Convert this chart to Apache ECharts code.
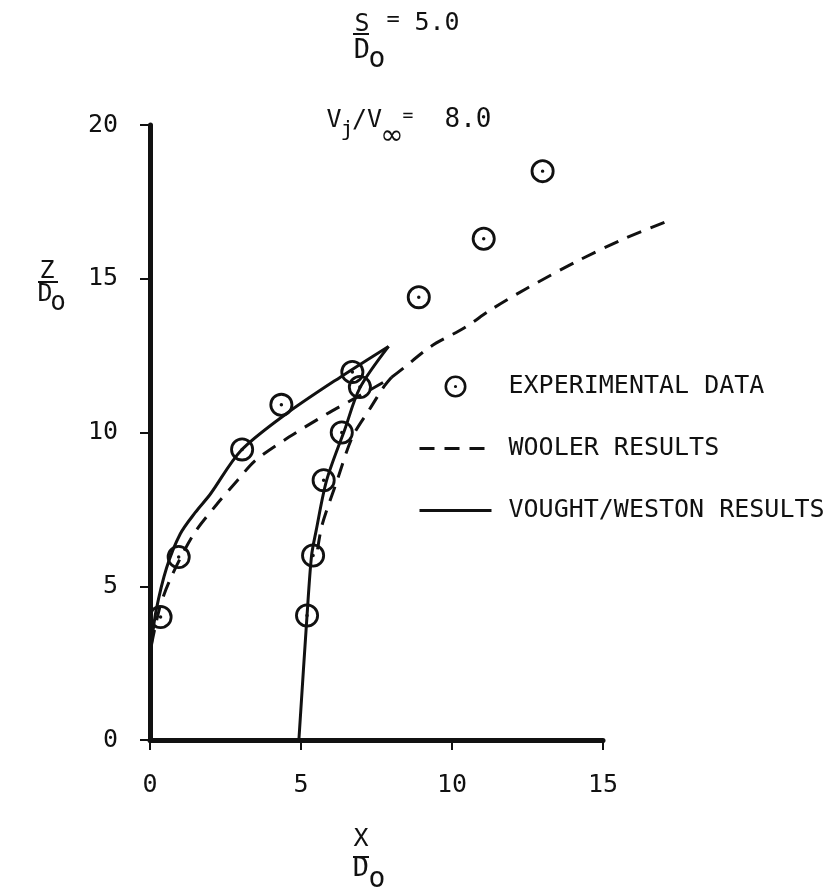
<!DOCTYPE html>
<html>
<head>
<meta charset="utf-8">
<script src="https://cdn.jsdelivr.net/npm/echarts@6.0.0/dist/echarts.min.js"></script>
<style>
  html, body { margin: 0; padding: 0; background: #fff; }
  #graph { width: 828px; height: 891px; }
</style>
</head>
<body>
<div id="graph"></div>
<script>
// axis ticks
const xTicks = [0, 5, 10, 15]
const yTicks = [0, 5, 10, 15, 20]
// the Wooler curve runs past the drawn x axis, up to about 17.5
const xReach = 17.5

// experimental data (circles)
const expX = [0.35, 0.95, 3.05, 4.35, 6.7, 6.95, 8.9, 11.05, 13.0, 5.2, 5.4, 5.75, 6.35]
const expY = [4.0, 5.95, 9.45, 10.9, 11.97, 11.48, 14.4, 16.3, 18.5, 4.05, 6.0, 8.45, 10.0]

// Wooler results (dashed), main branch and right branch
const woolerX = [0.05, 0.35, 0.75, 1.45, 2.2, 2.9, 3.5, 4.6, 5.85, 6.85, 8.0, 9.3, 10.4, 11.3, 12.5, 14.2, 15.7, 17.2]
const woolerY = [3.1, 4.4, 5.4, 6.7, 7.65, 8.45, 9.1, 9.85, 10.6, 11.15, 11.8, 12.8, 13.4, 14.0, 14.7, 15.6, 16.3, 16.9]
const woolerBranchX = [5.55, 5.7, 6.2, 6.7, 7.3, 7.75, 8.0]
const woolerBranchY = [6.2, 7.0, 8.45, 9.85, 10.8, 11.5, 11.8]

// Vought/Weston results (solid): left curve up to the tip, right curve from the tip down
const voughtLeftX = [0, 0.05, 0.2, 0.55, 1.0, 1.5, 2.0, 3.0, 4.5, 6.3, 7.9]
const voughtLeftY = [2.6, 3.15, 4.2, 5.6, 6.7, 7.4, 8.0, 9.4, 10.6, 11.8, 12.8]
const voughtRightX = [7.9, 6.95, 6.45, 5.85, 5.5, 5.35, 5.2, 4.93]
const voughtRightY = [12.8, 11.45, 10.1, 8.45, 6.8, 6.0, 4.05, 0]

const zip = (xs, ys) => xs.map((x, i) => [x, ys[i]])

const ink = '#111'
const mono = 'DejaVu Sans Mono'
// ring with a dot in the middle
const dotCircle = 'path://M12,1A11,11,0,1,1,12,23A11,11,0,1,1,12,1Z' +
  'M12,3.6A8.4,8.4,0,1,0,12,20.4A8.4,8.4,0,1,0,12,3.6Z' +
  'M12,10.4A1.6,1.6,0,1,1,12,13.6A1.6,1.6,0,1,1,12,10.4Z'

function txt(x, y, s, size, family) {
  return {
    type: 'text', x: x, y: y,
    style: {
      text: s, fill: ink, font: size + 'px "' + (family || mono) + '"',
      textAlign: 'center', textVerticalAlign: 'middle'
    }
  }
}
function bar(x1, x2, y) {
  return { type: 'line', shape: { x1: x1, y1: y, x2: x2, y2: y }, style: { stroke: ink, lineWidth: 2 } }
}
function curve(name, xs, ys, dashed, wide) {
  return {
    name: name,
    type: 'line',
    xAxisIndex: wide ? 1 : 0,
    yAxisIndex: wide ? 1 : 0,
    symbol: 'none',
    smooth: 0.3,
    data: zip(xs, ys),
    lineStyle: { color: ink, width: 3, type: dashed ? [15, 10] : 'solid' },
    itemStyle: { color: ink, opacity: 0 }
  }
}

// plot box in pixels: x 0..15 spans 150..603
const plotLeft = 150
const plotWidth = 453
const wideWidth = plotWidth * xReach / xTicks[xTicks.length - 1]

let chart = echarts.init(document.getElementById('graph'))
chart.setOption({
  backgroundColor: '#fff',
  animation: false,
  grid: [
    { left: plotLeft, width: plotWidth, top: 125, bottom: 151 },
    { left: plotLeft, width: wideWidth, top: 125, bottom: 151 }
  ],
  legend: {
    orient: 'vertical',
    left: 418,
    top: 374,
    itemWidth: 72,
    itemHeight: 22,
    itemGap: 37,
    padding: 0,
    data: ['EXPERIMENTAL DATA', 'WOOLER RESULTS', 'VOUGHT/WESTON RESULTS'],
    lineStyle: { width: 3 },
    textStyle: { fontFamily: mono, fontSize: 25, color: ink, padding: [0, 0, 0, 12] }
  },
  xAxis: [
    {
      type: 'value',
      min: xTicks[0],
      max: xTicks[xTicks.length - 1],
      interval: xTicks[1] - xTicks[0],
      splitLine: { show: false },
      axisLine: { lineStyle: { color: ink, width: 5 } },
      axisTick: { length: 10, lineStyle: { color: ink, width: 2 } },
      axisLabel: { fontFamily: mono, fontSize: 25, color: ink, margin: 33 }
    },
    { type: 'value', gridIndex: 1, min: 0, max: xReach, show: false }
  ],
  yAxis: [
    {
      type: 'value',
      min: yTicks[0],
      max: yTicks[yTicks.length - 1],
      interval: yTicks[1] - yTicks[0],
      splitLine: { show: false },
      axisLine: { lineStyle: { color: ink, width: 5 } },
      axisTick: { length: 10, lineStyle: { color: ink, width: 2 } },
      axisLabel: { fontFamily: mono, fontSize: 25, color: ink, margin: 32 }
    },
    { type: 'value', gridIndex: 1, min: yTicks[0], max: yTicks[yTicks.length - 1], show: false }
  ],
  graphic: [
    // S / Do = 5.0
    txt(362, 24, 'S', 25),
    bar(353, 369, 34),
    txt(393, 20, '=', 22),
    txt(437, 23, '5.0', 25),
    txt(362, 51, 'D', 27),
    txt(377, 60, 'o', 28),
    // Vj / Vinf = 8.0
    txt(334, 120, 'V', 25),
    txt(347, 130, 'j', 22),
    txt(367, 120, '/V', 25),
    txt(392, 137, '\u221e', 28, 'DejaVu Sans'),
    txt(408, 116, '=', 18),
    txt(468, 120, '8.0', 26),
    // Z / Do
    txt(47, 271, 'Z', 25),
    bar(38, 58, 282),
    txt(45, 294, 'D', 25),
    txt(58, 303, 'o', 26),
    // X / Do
    txt(361, 839, 'X', 25),
    bar(353, 369, 857),
    txt(361, 869, 'D', 27),
    txt(377, 880, 'o', 28)
  ],
  series: [
    curve('WOOLER RESULTS', woolerX, woolerY, true, true),
    curve('WOOLER RESULTS', woolerBranchX, woolerBranchY, true, true),
    curve('VOUGHT/WESTON RESULTS', voughtLeftX, voughtLeftY, false, false),
    curve('VOUGHT/WESTON RESULTS', voughtRightX, voughtRightY, false, false),
    {
      name: 'EXPERIMENTAL DATA',
      type: 'scatter',
      symbol: dotCircle,
      symbolSize: 24,
      data: zip(expX, expY),
      itemStyle: { color: ink, opacity: 1 },
      z: 5
    }
  ]
})
</script>
</body>
</html>
